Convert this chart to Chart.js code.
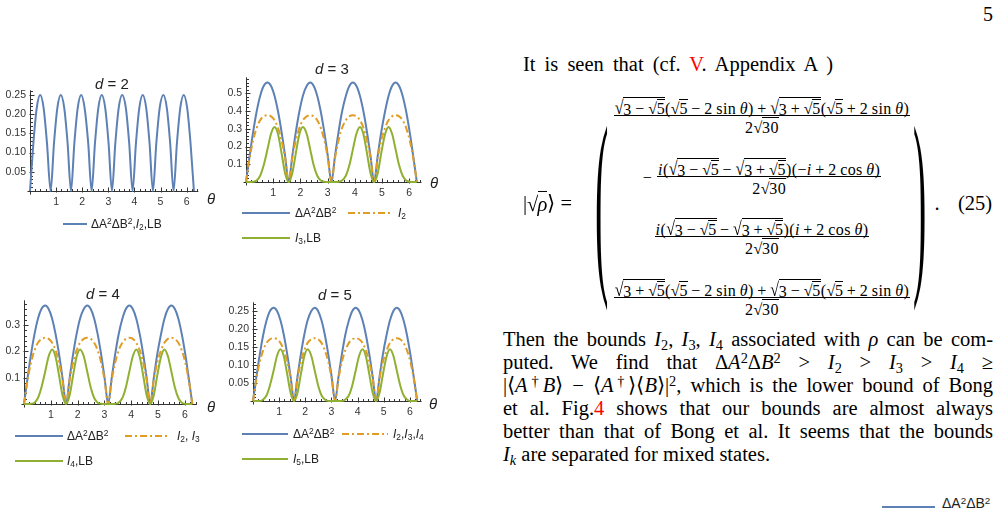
<!DOCTYPE html>
<html>
<head>
<meta charset="utf-8">
<script src="https://cdn.jsdelivr.net/npm/chart.js@4.4.0/dist/chart.umd.min.js"></script>
<style>
html, body { margin: 0; padding: 0; background: #fff; }
body { width: 1000px; height: 512px; position: relative; overflow: hidden; }
canvas { position: absolute; }
.t { position: absolute; white-space: nowrap; line-height: 1; }
.sans { font-family: 'Liberation Sans', Arial, sans-serif; color: #222; }
.serif { font-family: 'Liberation Serif', 'Times New Roman', serif; color: #000; }
.c { transform: translate(-50%, -50%); }
.l { transform: translateY(-50%); }
.sw { position: absolute; height: 2px; margin-top: -1px; }
.blue { background: #5E81B5; }
.green { background: #8FB032; }
.orange { background: repeating-linear-gradient(90deg, #E19C24 0 7px, transparent 7px 10px, #E19C24 10px 12px, transparent 12px 15px); }
sub, sup { font-size: 0.7em; line-height: 0; }
sub { vertical-align: -0.25em; }
sup { vertical-align: 0.45em; }
.red { color: #f00; }
.para { position: absolute; left: 503px; top: 327.5px; width: 490px; font-size: 20.5px; line-height: 23px; }
.jl { text-align: justify; text-align-last: justify; }
.rad { white-space: nowrap; }
.rs { display: inline-block; margin-right: -0.04em; }
.rs.big { transform: scale(1, 1.2); transform-origin: 50% 85%; }
.rc { display: inline-block; border-top: 1px solid #000; line-height: 1.1em; padding-top: 0.5px; }
.op { margin: 0 0.22em; }
.mrow { position: absolute; left: 600px; width: 324px; text-align: center; font-size: 16px; letter-spacing: 0.4px; }
.frac { display: inline-flex; flex-direction: column; align-items: center; vertical-align: middle; }
.num { border-bottom: 1px solid #000; padding: 0 1px 1px; line-height: 17px; height: 17px; }
.den { line-height: 17px; padding-top: 1px; }
.paren { position: absolute; font-size: 40px; line-height: 1; }
</style>
</head>
<body>

<!-- left column: four Mathematica-style plots -->
<canvas id="c2"></canvas>
<canvas id="c3"></canvas>
<canvas id="c4"></canvas>
<canvas id="c5"></canvas>

<div class="t sans c" style="left:112px;top:83px;font-size:15px"><i>d</i> = 2</div>
<div class="t sans c" style="left:211px;top:198px;font-size:15px"><i>θ</i></div>
<div class="sw blue" style="left:63px;top:224px;width:24px"></div>
<div class="t sans l" style="left:91px;top:224px;font-size:12px">ΔA<sup>2</sup>ΔB<sup>2</sup>,<i>I</i><sub>2</sub>,LB</div>

<div class="t sans c" style="left:332px;top:68px;font-size:15px"><i>d</i> = 3</div>
<div class="t sans c" style="left:434px;top:182px;font-size:15px"><i>θ</i></div>
<div class="sw blue" style="left:242px;top:213px;width:48px"></div>
<div class="t sans l" style="left:295px;top:213px;font-size:12px">ΔA<sup>2</sup>ΔB<sup>2</sup></div>
<div class="sw orange" style="left:348px;top:213px;width:45px"></div>
<div class="t sans l" style="left:398px;top:213px;font-size:12px"><i>I</i><sub>2</sub></div>
<div class="sw green" style="left:242px;top:238px;width:48px"></div>
<div class="t sans l" style="left:295px;top:238px;font-size:12px"><i>I</i><sub>3</sub>,LB</div>

<div class="t sans c" style="left:103px;top:293px;font-size:15px"><i>d</i> = 4</div>
<div class="t sans c" style="left:211px;top:406px;font-size:15px"><i>θ</i></div>
<div class="sw blue" style="left:15px;top:436px;width:48px"></div>
<div class="t sans l" style="left:67px;top:436px;font-size:12px">ΔA<sup>2</sup>ΔB<sup>2</sup></div>
<div class="sw orange" style="left:125px;top:436px;width:45px"></div>
<div class="t sans l" style="left:177px;top:436px;font-size:12px"><i>I</i><sub>2</sub>, <i>I</i><sub>3</sub></div>
<div class="sw green" style="left:15px;top:461px;width:48px"></div>
<div class="t sans l" style="left:67px;top:461px;font-size:12px"><i>I</i><sub>4</sub>,LB</div>

<div class="t sans c" style="left:335px;top:294px;font-size:15px"><i>d</i> = 5</div>
<div class="t sans c" style="left:433px;top:403px;font-size:15px"><i>θ</i></div>
<div class="sw blue" style="left:242px;top:434px;width:46px"></div>
<div class="t sans l" style="left:293px;top:434px;font-size:12px">ΔA<sup>2</sup>ΔB<sup>2</sup></div>
<div class="sw orange" style="left:342px;top:434px;width:46px"></div>
<div class="t sans l" style="left:393px;top:434px;font-size:12px"><i>I</i><sub>2</sub>,<i>I</i><sub>3</sub>,<i>I</i><sub>4</sub></div>
<div class="sw green" style="left:242px;top:459px;width:46px"></div>
<div class="t sans l" style="left:293px;top:459px;font-size:12px"><i>I</i><sub>5</sub>,LB</div>

<!-- right column: text -->
<div class="t serif c" style="left:988px;top:14px;font-size:20px">5</div>
<div class="t serif jl" style="left:523px;top:52.5px;width:310px;font-size:20.5px;line-height:23px;white-space:normal">It is seen that (cf. <span class="red">V</span>. Appendix A )</div>

<div class="t serif l" id="ket" style="left:523px;top:203px;font-size:20.5px"></div>
<div class="paren serif" style="left:595px;top:181px;transform:scale(1,5.1)">(</div>
<div class="paren serif" style="left:913px;top:181px;transform:scale(1,5.1)">)</div>
<div class="mrow serif" id="m1" style="top:97px"></div>
<div class="mrow serif" id="m2" style="top:158px"></div>
<div class="mrow serif" id="m3" style="top:218px"></div>
<div class="mrow serif" id="m4" style="top:279px"></div>
<div class="t serif c" style="left:937px;top:203px;font-size:20.5px">.</div>
<div class="t serif c" style="left:975px;top:203px;font-size:20.5px">(25)</div>

<div class="para serif">
  <div class="jl">Then the bounds <i>I</i><sub>2</sub>, <i>I</i><sub>3</sub>, <i>I</i><sub>4</sub> associated with <i>ρ</i> can be com-</div>
  <div class="jl">puted. We find that Δ<i>A</i><sup>2</sup>Δ<i>B</i><sup>2</sup> &gt; <i>I</i><sub>2</sub> &gt; <i>I</i><sub>3</sub> &gt; <i>I</i><sub>4</sub> ≥</div>
  <div class="jl">|⟨<i>A</i><sup>†</sup><i>B</i>⟩ − ⟨<i>A</i><sup>†</sup>⟩⟨<i>B</i>⟩|<sup>2</sup>, which is the lower bound of Bong</div>
  <div class="jl">et al. Fig.<span class="red">4</span> shows that our bounds are almost always</div>
  <div class="jl">better than that of Bong et al. It seems that the bounds</div>
  <div><i>I<sub>k</sub></i> are separated for mixed states.</div>
</div>

<div class="sw blue" style="left:882px;top:507px;width:53px"></div>
<div class="t sans l" style="left:942px;top:503px;font-size:14px">ΔA<sup>2</sup>ΔB<sup>2</sup></div>

<script>
// theta grid (radians) the curves were read at
const THETA = [
  0, 0.13, 0.26, 0.39, 0.52, 0.65, 0.79, 0.92, 1.05, 1.18, 1.31, 1.44,
  1.57, 1.70, 1.83, 1.96, 2.09, 2.23, 2.36, 2.49, 2.62, 2.75, 2.88, 3.01,
  3.14, 3.27, 3.40, 3.53, 3.67, 3.80, 3.93, 4.06, 4.19, 4.32, 4.45, 4.58,
  4.71, 4.84, 4.97, 5.11, 5.24, 5.37, 5.50, 5.63, 5.76, 5.89, 6.02, 6.15, 6.28
];

// d = 2 : all bounds coincide
const D2_BLUE = [
  0, 0.125, 0.217, 0.25, 0.217, 0.125, 0, 0.125, 0.217, 0.25, 0.217, 0.125,
  0, 0.125, 0.217, 0.25, 0.217, 0.125, 0, 0.125, 0.217, 0.25, 0.217, 0.125,
  0, 0.125, 0.217, 0.25, 0.217, 0.125, 0, 0.125, 0.217, 0.25, 0.217, 0.125,
  0, 0.125, 0.217, 0.25, 0.217, 0.125, 0, 0.125, 0.217, 0.25, 0.217, 0.125, 0
];

// d = 3
const D3_BLUE = [
  0, 0.145, 0.28, 0.396, 0.485, 0.541, 0.56, 0.541, 0.485, 0.396, 0.28, 0.145,
  0, 0.145, 0.28, 0.396, 0.485, 0.541, 0.56, 0.541, 0.485, 0.396, 0.28, 0.145,
  0, 0.145, 0.28, 0.396, 0.485, 0.541, 0.56, 0.541, 0.485, 0.396, 0.28, 0.145,
  0, 0.145, 0.28, 0.396, 0.485, 0.541, 0.56, 0.541, 0.485, 0.396, 0.28, 0.145, 0
];
const D3_ORANGE = [
  0, 0.133, 0.234, 0.304, 0.348, 0.37, 0.376, 0.37, 0.348, 0.304, 0.234, 0.133,
  0, 0.133, 0.234, 0.304, 0.348, 0.37, 0.376, 0.37, 0.348, 0.304, 0.234, 0.133,
  0, 0.133, 0.234, 0.304, 0.348, 0.37, 0.376, 0.37, 0.348, 0.304, 0.234, 0.133,
  0, 0.133, 0.234, 0.304, 0.348, 0.37, 0.376, 0.37, 0.348, 0.304, 0.234, 0.133, 0
];
const D3_GREEN = [
  0, 0, 0.001, 0.008, 0.035, 0.094, 0.184, 0.272, 0.31, 0.268, 0.16, 0.048,
  0, 0.048, 0.16, 0.268, 0.31, 0.272, 0.184, 0.094, 0.035, 0.008, 0.001, 0,
  0, 0, 0.001, 0.008, 0.035, 0.094, 0.184, 0.272, 0.31, 0.268, 0.16, 0.048,
  0, 0.048, 0.16, 0.268, 0.31, 0.272, 0.184, 0.094, 0.035, 0.008, 0.001, 0, 0
];

// d = 4
const D4_BLUE = [
  0, 0.097, 0.188, 0.265, 0.325, 0.362, 0.375, 0.362, 0.325, 0.265, 0.188, 0.097,
  0, 0.097, 0.188, 0.265, 0.325, 0.362, 0.375, 0.362, 0.325, 0.265, 0.188, 0.097,
  0, 0.097, 0.188, 0.265, 0.325, 0.362, 0.375, 0.362, 0.325, 0.265, 0.188, 0.097,
  0, 0.097, 0.188, 0.265, 0.325, 0.362, 0.375, 0.362, 0.325, 0.265, 0.188, 0.097, 0
];
const D4_ORANGE = [
  0, 0.089, 0.157, 0.204, 0.233, 0.248, 0.252, 0.248, 0.233, 0.204, 0.157, 0.089,
  0, 0.089, 0.157, 0.204, 0.233, 0.248, 0.252, 0.248, 0.233, 0.204, 0.157, 0.089,
  0, 0.089, 0.157, 0.204, 0.233, 0.248, 0.252, 0.248, 0.233, 0.204, 0.157, 0.089,
  0, 0.089, 0.157, 0.204, 0.233, 0.248, 0.252, 0.248, 0.233, 0.204, 0.157, 0.089, 0
];
const D4_GREEN = [
  0, 0, 0.001, 0.005, 0.023, 0.063, 0.123, 0.182, 0.208, 0.179, 0.107, 0.032,
  0, 0.032, 0.107, 0.179, 0.208, 0.182, 0.123, 0.063, 0.023, 0.005, 0.001, 0,
  0, 0, 0.001, 0.005, 0.023, 0.063, 0.123, 0.182, 0.208, 0.179, 0.107, 0.032,
  0, 0.032, 0.107, 0.179, 0.208, 0.182, 0.123, 0.063, 0.023, 0.005, 0.001, 0, 0
];

// d = 5
const D5_BLUE = [
  0, 0.067, 0.13, 0.184, 0.225, 0.251, 0.26, 0.251, 0.225, 0.184, 0.13, 0.067,
  0, 0.067, 0.13, 0.184, 0.225, 0.251, 0.26, 0.251, 0.225, 0.184, 0.13, 0.067,
  0, 0.067, 0.13, 0.184, 0.225, 0.251, 0.26, 0.251, 0.225, 0.184, 0.13, 0.067,
  0, 0.067, 0.13, 0.184, 0.225, 0.251, 0.26, 0.251, 0.225, 0.184, 0.13, 0.067, 0
];
const D5_ORANGE = [
  0, 0.062, 0.109, 0.141, 0.162, 0.172, 0.175, 0.172, 0.162, 0.141, 0.109, 0.062,
  0, 0.062, 0.109, 0.141, 0.162, 0.172, 0.175, 0.172, 0.162, 0.141, 0.109, 0.062,
  0, 0.062, 0.109, 0.141, 0.162, 0.172, 0.175, 0.172, 0.162, 0.141, 0.109, 0.062,
  0, 0.062, 0.109, 0.141, 0.162, 0.172, 0.175, 0.172, 0.162, 0.141, 0.109, 0.062, 0
];
const D5_GREEN = [
  0, 0, 0, 0.004, 0.016, 0.044, 0.085, 0.126, 0.144, 0.124, 0.074, 0.022,
  0, 0.022, 0.074, 0.124, 0.144, 0.126, 0.085, 0.044, 0.016, 0.004, 0, 0,
  0, 0, 0, 0.004, 0.016, 0.044, 0.085, 0.126, 0.144, 0.124, 0.074, 0.022,
  0, 0.022, 0.074, 0.124, 0.144, 0.126, 0.085, 0.044, 0.016, 0.004, 0, 0, 0
];

// tick labels
const X_TICKS = [1, 2, 3, 4, 5, 6];
const D2_Y_TICKS = [0.05, 0.10, 0.15, 0.20, 0.25];
const D3_Y_TICKS = [0.1, 0.2, 0.3, 0.4, 0.5];
const D4_Y_TICKS = [0.1, 0.2, 0.3];
const D5_Y_TICKS = [0.05, 0.10, 0.15, 0.20, 0.25];

const BLUE = '#5E81B5', ORANGE = '#E19C24', GREEN = '#8FB032';

// axes through the origin with inward major/minor ticks, Mathematica style
const mmaAxes = {
    id: 'mmaAxes',
    beforeDatasetsDraw(chart, args, opts) {
        const { ctx, chartArea: a, scales: { x, y } } = chart;
        const ox = Math.round(x.getPixelForValue(0)) + 0.5;
        const oy = Math.round(y.getPixelForValue(0)) + 0.5;
        ctx.save();
        ctx.strokeStyle = '#333';
        ctx.lineWidth = 1;
        ctx.beginPath();
        ctx.moveTo(ox - 3, oy); ctx.lineTo(a.right, oy);
        ctx.moveTo(ox, oy + 3); ctx.lineTo(ox, a.top);
        for (let v = opts.xMinor; v <= x.max; v += opts.xMinor) {
            const px = Math.round(x.getPixelForValue(v)) + 0.5;
            const major = Math.abs(v - Math.round(v)) < 1e-6;
            ctx.moveTo(px, oy + (major ? 1 : 0));
            ctx.lineTo(px, oy - (major ? 4 : 2.5));
        }
        for (let v = opts.yMinor; v <= y.max + 1e-9; v += opts.yMinor) {
            const py = Math.round(y.getPixelForValue(v)) + 0.5;
            const major = opts.yTicks.some(t => Math.abs(t - v) < 1e-6);
            ctx.moveTo(ox - (major ? 1 : 0), py);
            ctx.lineTo(ox + (major ? 4 : 2.5), py);
        }
        ctx.stroke();
        ctx.restore();
    }
};

const PL = 40, PT = 10, PR = 12, PB = 24;

function makePlot(id, box, series, yTicks, dec, yMinor) {
    const cv = document.getElementById(id);
    const w = box.xMax * box.xUnit, h = box.yMax * box.yPU;
    const left = Math.round(box.x0 - PL), top = Math.round(box.y0 - h - PT);
    cv.width = Math.round(w + PL + PR);
    cv.height = Math.round(h + PT + PB);
    cv.style.left = left + 'px';
    cv.style.top = top + 'px';
    const tickFont = { family: "'Liberation Sans', Arial, sans-serif", size: 10.5 };

    return new Chart(cv.getContext('2d'), {
        type: 'line',
        data: {
            datasets: series.map(s => ({
                data: THETA.map((t, i) => ({ x: t, y: s.values[i] })),
                borderColor: s.color,
                borderWidth: 2,
                borderDash: s.dash || [],
                pointRadius: 0,
                fill: false,
                cubicInterpolationMode: 'monotone',
                order: s.order,
                clip: false
            }))
        },
        options: {
            responsive: false,
            animation: false,
            events: [],
            layout: { padding: { left: 0, top: PT, right: cv.width - PL - w, bottom: 0 }, autoPadding: false },
            plugins: {
                legend: { display: false },
                tooltip: { enabled: false },
                mmaAxes: { xMinor: 0.2, yMinor: yMinor, yTicks: yTicks }
            },
            scales: {
                x: {
                    type: 'linear', min: 0, max: box.xMax,
                    grid: { display: false, drawTicks: false },
                    border: { display: false },
                    afterBuildTicks: a => { a.ticks = X_TICKS.map(v => ({ value: v })); },
                    afterFit: a => { a.height = PB; },
                    ticks: { padding: 5, font: tickFont, color: '#333', maxRotation: 0, autoSkip: false,
                             callback: v => String(v) }
                },
                y: {
                    type: 'linear', min: 0, max: box.yMax,
                    grid: { display: false, drawTicks: false },
                    border: { display: false },
                    afterBuildTicks: a => { a.ticks = yTicks.map(v => ({ value: v })); },
                    afterFit: a => { a.width = PL; },
                    ticks: { padding: 4, font: tickFont, color: '#333', autoSkip: false,
                             callback: v => v.toFixed(dec) }
                }
            }
        },
        plugins: [mmaAxes]
    });
}

makePlot('c2', { x0: 30, y0: 190.7, xUnit: 26.1, xMax: 6.45, yMax: 0.262, yPU: 386 },
    [{ values: D2_BLUE, color: BLUE, order: 0 }], D2_Y_TICKS, 2, 0.01);

makePlot('c3', { x0: 246.1, y0: 181.5, xUnit: 27.2, xMax: 6.45, yMax: 0.59, yPU: 177.5 },
    [{ values: D3_BLUE, color: BLUE, order: 2 },
     { values: D3_ORANGE, color: ORANGE, dash: [7, 3, 2, 3], order: 1 },
     { values: D3_GREEN, color: GREEN, order: 0 }], D3_Y_TICKS, 1, 0.02);

makePlot('c4', { x0: 24.2, y0: 404, xUnit: 26.8, xMax: 6.45, yMax: 0.395, yPU: 263 },
    [{ values: D4_BLUE, color: BLUE, order: 2 },
     { values: D4_ORANGE, color: ORANGE, dash: [7, 3, 2, 3], order: 1 },
     { values: D4_GREEN, color: GREEN, order: 0 }], D4_Y_TICKS, 1, 0.02);

makePlot('c5', { x0: 253.2, y0: 401, xUnit: 26.14, xMax: 6.45, yMax: 0.275, yPU: 361.5 },
    [{ values: D5_BLUE, color: BLUE, order: 2 },
     { values: D5_ORANGE, color: ORANGE, dash: [7, 3, 2, 3], order: 1 },
     { values: D5_GREEN, color: GREEN, order: 0 }], D5_Y_TICKS, 2, 0.01);

// equation (25)
const R = (c, big) => `<span class="rad"><span class="rs${big ? ' big' : ''}">√</span><span class="rc">${c}</span></span>`;
const O = s => `<span class="op">${s}</span>`;
const s5 = R('5');
const sinT = '2&#8201;sin&#8201;<i>θ</i>';
const cosT = '2&#8201;cos&#8201;<i>θ</i>';
const rm = R('3' + O('−') + s5, 1), rp = R('3' + O('+') + s5, 1);
const den = '2' + R('30');
const frac = (n) => `<span class="frac"><span class="num">${n}</span><span class="den">${den}</span></span>`;

document.getElementById('ket').innerHTML = '|' + R('<i>ρ</i>') + '⟩ =';
document.getElementById('m1').innerHTML = frac(rm + '(' + s5 + O('−') + sinT + ')' + O('+') + rp + '(' + s5 + O('+') + sinT + ')');
document.getElementById('m2').innerHTML = '<span style="vertical-align:middle;margin-right:5px">−</span>' +
    frac('<i>i</i>(' + rm + O('−') + rp + ')(−<i>i</i>' + O('+') + cosT + ')');
document.getElementById('m3').innerHTML = frac('<i>i</i>(' + rm + O('−') + rp + ')(<i>i</i>' + O('+') + cosT + ')');
document.getElementById('m4').innerHTML = frac(rp + '(' + s5 + O('−') + sinT + ')' + O('+') + rm + '(' + s5 + O('+') + sinT + ')');
</script>
</body>
</html>
